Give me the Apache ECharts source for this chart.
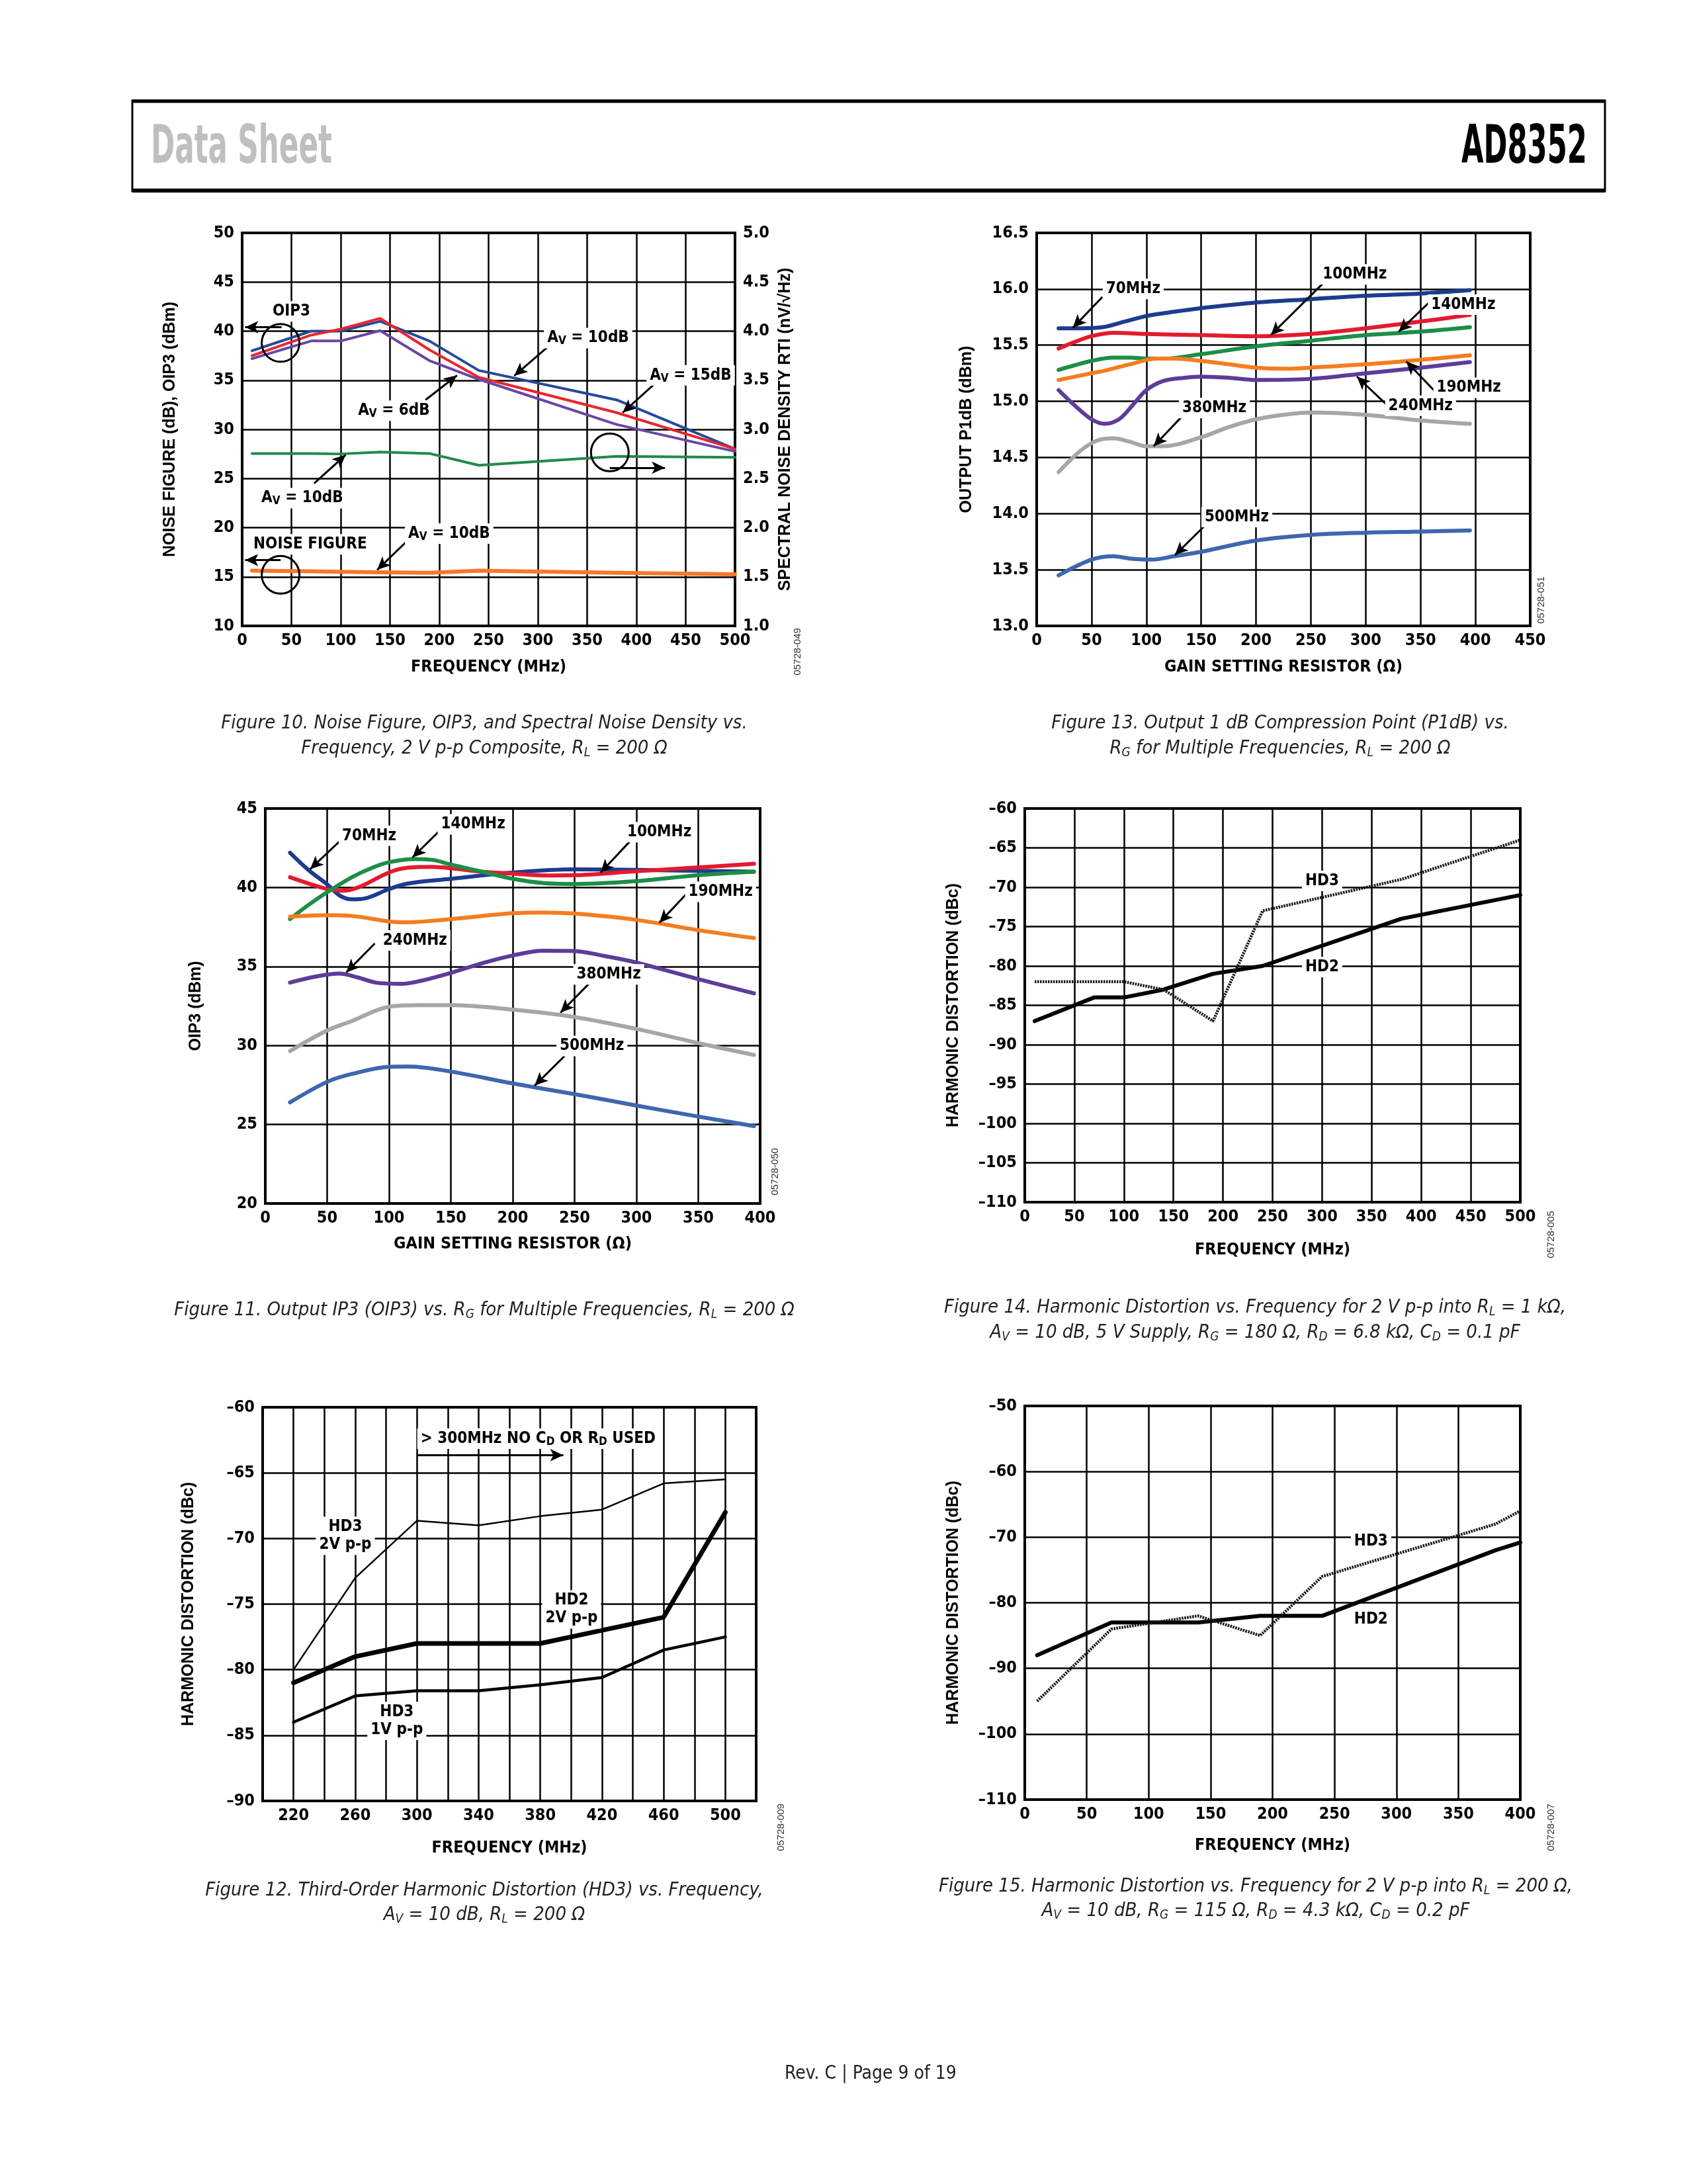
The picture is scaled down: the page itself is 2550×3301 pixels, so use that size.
<!DOCTYPE html>
<html><head><meta charset="utf-8">
<script src="https://cdn.jsdelivr.net/npm/echarts@6/dist/echarts.min.js"></script>
<style>html,body{margin:0;padding:0;background:#fff}#c{width:2550px;height:3301px}</style>
</head><body><div id="c"></div>
<script>
// ---------------- DATA ----------------
// Figure 10: Noise figure, OIP3, spectral noise density vs frequency
const f10Freq = [10, 70, 100, 140, 190, 240, 380, 500];
const f10Oip3Av10 = [38.0, 40.0, 40.0, 41.0, 39.0, 36.0, 33.0, 28.0];
const f10Oip3Av15 = [37.5, 39.6, 40.2, 41.3, 38.1, 35.3, 31.7, 28.0];
const f10Oip3Av6 = [37.2, 39.0, 39.0, 40.05, 37.0, 35.1, 30.5, 27.75];
const f10NoiseDensity = [2.755, 2.755, 2.75, 2.77, 2.755, 2.635, 2.725, 2.715];
const f10NoiseFigure = [15.63, 15.55, 15.5, 15.45, 15.4, 15.63, 15.4, 15.25];

// Figure 13: P1dB vs RG
const f13R70 = [20, 40, 60, 80, 100, 120, 150, 200, 250, 300, 350, 395];
const f13P70 = [15.65, 15.65, 15.66, 15.71, 15.76, 15.79, 15.83, 15.88, 15.91, 15.94, 15.96, 15.99];
const f13R100 = [20, 35, 50, 70, 100, 150, 200, 250, 300, 350, 395];
const f13P100 = [15.47, 15.53, 15.58, 15.61, 15.60, 15.59, 15.58, 15.60, 15.65, 15.71, 15.77];
const f13R140 = [20, 50, 70, 85, 100, 115, 150, 200, 250, 300, 350, 395];
const f13P140 = [15.28, 15.36, 15.39, 15.39, 15.38, 15.38, 15.42, 15.49, 15.54, 15.59, 15.62, 15.66];
const f13R190 = [20, 50, 65, 85, 110, 125, 150, 175, 200, 230, 250, 300, 350, 395];
const f13P190 = [15.19, 15.25, 15.28, 15.33, 15.38, 15.38, 15.36, 15.33, 15.30, 15.29, 15.30, 15.33, 15.37, 15.41];
const f13R240 = [20, 35, 50, 62, 75, 87, 100, 115, 135, 150, 175, 200, 250, 300, 350, 395];
const f13P240 = [15.10, 14.96, 14.84, 14.80, 14.84, 14.96, 15.10, 15.18, 15.21, 15.22, 15.21, 15.19, 15.20, 15.25, 15.30, 15.35];
const f13R380 = [20, 40, 55, 70, 85, 100, 115, 150, 175, 200, 225, 250, 300, 350, 395];
const f13P380 = [14.37, 14.56, 14.65, 14.67, 14.64, 14.60, 14.60, 14.68, 14.77, 14.84, 14.88, 14.90, 14.88, 14.83, 14.80];
const f13R500 = [20, 50, 70, 85, 105, 125, 150, 200, 250, 300, 350, 395];
const f13P500 = [13.45, 13.59, 13.62, 13.60, 13.59, 13.62, 13.66, 13.76, 13.81, 13.83, 13.84, 13.85];

// Figure 11: OIP3 vs RG
const f11R70 = [20, 35, 50, 60, 70, 80, 100, 115, 150, 200, 250, 300, 350, 395];
const f11O70 = [42.2, 41.1, 40.2, 39.5, 39.25, 39.3, 39.9, 40.25, 40.55, 40.95, 41.15, 41.12, 41.05, 41.0];
const f11R100 = [20, 50, 62, 75, 100, 115, 135, 150, 175, 200, 225, 250, 300, 350, 395];
const f11O100 = [40.65, 39.9, 39.8, 40.0, 40.95, 41.25, 41.3, 41.22, 41.0, 40.88, 40.76, 40.78, 41.03, 41.27, 41.5];
const f11R140 = [20, 35, 50, 70, 85, 100, 120, 135, 150, 175, 200, 225, 250, 300, 350, 395];
const f11O140 = [38.0, 38.9, 39.7, 40.65, 41.2, 41.6, 41.8, 41.75, 41.45, 41.0, 40.55, 40.28, 40.22, 40.4, 40.78, 41.0];
const f11R190 = [20, 50, 70, 100, 115, 150, 200, 225, 250, 300, 350, 395];
const f11O190 = [38.15, 38.25, 38.2, 37.85, 37.8, 38.0, 38.37, 38.42, 38.35, 37.95, 37.3, 36.8];
const f11R240 = [20, 40, 60, 75, 90, 110, 125, 150, 175, 200, 225, 250, 275, 300, 350, 395];
const f11O240 = [33.98, 34.35, 34.55, 34.3, 33.97, 33.9, 34.08, 34.6, 35.2, 35.7, 36.0, 35.98, 35.65, 35.25, 34.2, 33.3];
const f11R380 = [20, 50, 70, 100, 125, 150, 200, 250, 300, 350, 395];
const f11O380 = [29.65, 30.95, 31.55, 32.45, 32.55, 32.55, 32.27, 31.8, 31.05, 30.15, 29.4];
const f11R500 = [20, 50, 70, 100, 115, 150, 200, 250, 300, 350, 395];
const f11O500 = [26.4, 27.7, 28.2, 28.65, 28.67, 28.35, 27.6, 26.92, 26.2, 25.5, 24.9];

// Figure 14: HD vs frequency, RL = 1k
const f14Freq = [10, 70, 100, 140, 190, 240, 380, 500];
const f14HD2 = [-87, -84, -84, -83, -81, -80, -74, -71];
const f14HD3 = [-82, -82, -82, -83, -87, -73, -69, -64];

// Figure 12: HD3 vs frequency
const f12Freq = [220, 260, 300, 340, 380, 420, 460, 500];
const f12HD3_2V = [-80, -73, -68.65, -69, -68.3, -67.8, -65.8, -65.5];
const f12HD2_2V = [-81, -79, -78, -78, -78, -77, -76, -68];
const f12HD3_1V = [-84, -82, -81.6, -81.6, -81.15, -80.6, -78.5, -77.5];
const f12XLabels = [220, 260, 300, 340, 380, 420, 460, 500];

// Figure 15: HD vs frequency, RL = 200
const f15Freq = [10, 70, 140, 190, 240, 380, 400];
const f15HD2 = [-88, -83, -83, -82, -82, -72, -70.8];
const f15HD3 = [-95, -84, -82, -85, -76, -68, -66];

// ---------------- STYLE HELPERS ----------------
const NARROW = "'Liberation Sans Narrow','DejaVu Sans Condensed',sans-serif";
const ARIAL = "'Liberation Sans',Arial,sans-serif";
const AXL = {color:'#000', fontFamily:NARROW, fontWeight:'bold', fontSize:25};
const SPLIT = {show:true, lineStyle:{color:'#000', width:2.5}};
const dash = v => v < 0 ? '\u2013' + Math.abs(v) : String(v);

function mkGrid(l, t, w, h) {
  return {left:l, top:t, width:w, height:h, show:true, borderColor:'#000', borderWidth:4, outerBoundsMode:'none'};
}
function mkX(gi, min, max, interval, name, gap, fmt) {
  return {type:'value', gridIndex:gi, min, max, interval, name, nameLocation:'middle', nameGap:gap,
    nameTextStyle:{color:'#000', fontFamily:NARROW, fontWeight:'bold', fontSize:25},
    axisLine:{show:false}, axisTick:{show:false},
    axisLabel:Object.assign({}, AXL, {margin:10, formatter:fmt}), splitLine:SPLIT};
}
function mkY(gi, min, max, interval, name, gap, fmt, pos) {
  return {type:'value', gridIndex:gi, position:pos || 'left', min, max, interval, name, nameLocation:'middle', nameGap:gap, nameRotate:90,
    nameTextStyle:{color:'#000', fontFamily:ARIAL, fontWeight:'bold', fontSize:25},
    axisLine:{show:false}, axisTick:{show:false},
    axisLabel:Object.assign({}, AXL, {margin:12, formatter:fmt}),
    splitLine: pos === 'right' ? {show:false} : SPLIT};
}
function pairs(xs, ys) { return xs.map((x, i) => [x, ys[i]]); }
function ln(xi, yi, xs, ys, color, width, extra) {
  return Object.assign({type:'line', xAxisIndex:xi, yAxisIndex:yi, data:pairs(xs, ys), showSymbol:false, symbol:'none',
    lineStyle:{color, width, cap:'round', join:'round'}, itemStyle:{color}, silent:true, z:3}, extra || {});
}
const RICH = {s:{fontFamily:NARROW, fontWeight:'bold', fontSize:17, color:'#000', verticalAlign:'bottom', lineHeight:18}};
function lbl(text, coord, pos) {
  return {coord, symbol:'rect', symbolSize:1, itemStyle:{color:'rgba(0,0,0,0)'},
    label:{show:true, position:pos || 'inside', distance:0, formatter:text, color:'#000', fontFamily:NARROW, fontWeight:'bold',
      fontSize:24, lineHeight:27, backgroundColor:'#fff', padding:[2, 5], rich:RICH}};
}
function circ(coord) {
  return {coord, symbol:'circle', symbolSize:57, itemStyle:{color:'rgba(0,0,0,0)', borderColor:'#000', borderWidth:3}, label:{show:false}};
}
function marks(labels, arrows, circles) {
  return {
    markPoint:{silent:true, animation:false, data:labels.concat(circles || [])},
    markLine:{silent:true, animation:false, symbol:['none', 'arrow'], symbolSize:[14, 20],
      lineStyle:{color:'#000', width:3, type:'solid'}, label:{show:false},
      data:arrows.map(p => [{coord:p[0]}, {coord:p[1]}])}
  };
}
const AV = v => 'A{s|V} = ' + v;

// ---------------- ANNOTATIONS (data coordinates) ----------------
const f10Marks = marks(
  [lbl('OIP3', [50, 42.0]), lbl(AV('10dB'), [351, 39.3]), lbl(AV('15dB'), [455, 35.5]), lbl(AV('6dB'), [154, 31.9]),
   lbl(AV('10dB'), [61, 23.0]), lbl('NOISE FIGURE', [69, 18.3]), lbl(AV('10dB'), [210, 19.4])],
  [[[40, 40.4], [3, 40.4]], [[310, 38.4], [276, 35.45]], [[417, 34.5], [386, 31.7]], [[186, 33.0], [218, 35.5]],
   [[373, 26.1], [429, 26.1]], [[73, 24.5], [105, 27.4]], [[39, 16.7], [3, 16.7]], [[167, 18.6], [137, 15.7]]],
  [circ([39, 38.8]), circ([373, 27.66]), circ([39, 15.2])]
);
const f13Marks = marks(
  [lbl('70MHz', [88, 16.0]), lbl('100MHz', [290, 16.13]), lbl('140MHz', [389, 15.86]), lbl('190MHz', [394, 15.12]),
   lbl('240MHz', [350, 14.96]), lbl('380MHz', [162, 14.94]), lbl('500MHz', [182.5, 13.97])],
  [[[60, 15.93], [33, 15.655]], [[261, 16.05], [213.5, 15.59]], [[357.7, 15.88], [330, 15.62]], [[363, 15.09], [337, 15.355]],
   [[318.6, 14.975], [292, 15.22]], [[133, 14.87], [106.6, 14.60]], [[153, 13.89], [126, 13.63]]]
);
const f11Marks = marks(
  [lbl('70MHz', [84, 43.27]), lbl('140MHz', [168, 44.0]), lbl('100MHz', [318.5, 43.5]), lbl('190MHz', [368, 39.72]),
   lbl('240MHz', [121, 36.65]), lbl('380MHz', [277.6, 34.5]), lbl('500MHz', [264, 29.97])],
  [[[61, 42.99], [36.3, 41.16]], [[144, 43.83], [119, 41.9]], [[294.5, 42.9], [271, 40.94]], [[342, 39.72], [318.5, 37.77]],
   [[88.5, 36.46], [65.5, 34.63]], [[262, 33.94], [238.6, 32.08]], [[242, 29.34], [217.7, 27.46]]]
);
const f14Marks = marks([lbl('HD3', [300, -69.2]), lbl('HD2', [300, -80.15])], []);
const f12Marks = marks(
  [lbl('> 300MHz NO C{s|D} OR R{s|D} USED', [300, -62.4], 'right'), lbl('HD3\n2V p-p', [253.6, -69.8]),
   lbl('HD2\n2V p-p', [400.3, -75.4]), lbl('HD3\n1V p-p', [287, -83.9])],
  [[[300, -63.65], [395, -63.65]]]
);
const f15Marks = marks([lbl('HD3', [279.5, -70.6]), lbl('HD2', [279.5, -82.5])], []);

// ---------------- GRAPHICS (page furniture) ----------------
function tw(text, font) { const c = document.createElement('canvas').getContext('2d'); c.font = font; return c.measureText(text).width; }
const HFAM = "'DejaVu Sans Condensed'";
const HFONT = "bold 80px 'DejaVu Sans Condensed'";
const dsScale = 274 / tw('Data Sheet', HFONT);
const adScale = 190 / tw('AD8352', HFONT);
const CAPF = "'Liberation Sans Narrow','DejaVu Sans Condensed',sans-serif";
function cap(cx, cy, text) {
  return {type:'text', x:cx, y:cy, silent:true, style:{text, align:'center', verticalAlign:'middle', fontFamily:CAPF, fontStyle:'italic',
    fontSize:29, lineHeight:34, fill:'#231f20',
    rich:{s:{fontFamily:CAPF, fontStyle:'italic', fontSize:19, fill:'#231f20', verticalAlign:'bottom', lineHeight:22}}}};
}
function code(x, y, text) {
  return {type:'text', x, y, rotation:Math.PI / 2, silent:true, style:{text, align:'center', verticalAlign:'middle', fontFamily:ARIAL, fontSize:15, fill:'#333'}};
}
const graphics = [
  {type:'rect', shape:{x:200, y:152, width:2226, height:137}, style:{fill:'none', stroke:'#000', lineWidth:3}},
  {type:'line', shape:{x1:200, y1:153, x2:2426, y2:153}, style:{stroke:'#000', lineWidth:5}},
  {type:'line', shape:{x1:200, y1:288, x2:2426, y2:288}, style:{stroke:'#000', lineWidth:6}},
  {type:'text', x:228, y:225, scaleX:dsScale, style:{text:'Data Sheet', align:'left', verticalAlign:'middle', fontFamily:HFAM, fontWeight:'bold', fontSize:80, fill:'#bfbfbf'}},
  {type:'text', x:2399, y:225, scaleX:adScale, style:{text:'AD8352', align:'right', verticalAlign:'middle', fontFamily:HFAM, fontWeight:'bold', fontSize:80, fill:'#000'}},
  cap(732, 1093, 'Figure 10. Noise Figure, OIP3, and Spectral Noise Density vs.'),
  cap(732, 1131, 'Frequency, 2 V p-p Composite, R{s|L} = 200 \u03A9'),
  cap(1935, 1093, 'Figure 13. Output 1 dB Compression Point (P1dB) vs.'),
  cap(1935, 1131, 'R{s|G} for Multiple Frequencies, R{s|L} = 200 \u03A9'),
  cap(732, 1980, 'Figure 11. Output IP3 (OIP3) vs. R{s|G} for Multiple Frequencies, R{s|L} = 200 \u03A9'),
  cap(1897, 1976, 'Figure 14. Harmonic Distortion vs. Frequency for 2 V p-p into R{s|L} = 1 k\u03A9,'),
  cap(1897, 2014, 'A{s|V} = 10 dB, 5 V Supply, R{s|G} = 180 \u03A9, R{s|D} = 6.8 k\u03A9, C{s|D} = 0.1 pF'),
  cap(732, 2857, 'Figure 12. Third-Order Harmonic Distortion (HD3) vs. Frequency,'),
  cap(732, 2894, 'A{s|V} = 10 dB, R{s|L} = 200 \u03A9'),
  cap(1898, 2851, 'Figure 15. Harmonic Distortion vs. Frequency for 2 V p-p into R{s|L} = 200 \u03A9,'),
  cap(1898, 2888, 'A{s|V} = 10 dB, R{s|G} = 115 \u03A9, R{s|D} = 4.3 k\u03A9, C{s|D} = 0.2 pF'),
  {type:'text', x:1316, y:3135, silent:true, style:{text:'Rev. C | Page 9 of 19', align:'center', verticalAlign:'middle', fontFamily:CAPF, fontSize:28, fill:'#231f20'}},
  code(1206, 985, '05728-049'), code(2330, 907, '05728-051'), code(1172, 1771, '05728-050'),
  code(2345, 1866, '05728-005'), code(1181, 2762, '05728-009'), code(2345, 2762, '05728-007')
];

// ---------------- COLOURS ----------------
const C = {navy:'#1d3c8f', red:'#e31b2f', green:'#1c8e47', orange:'#f57d20', purple:'#5e3c99', gray:'#a6a6a6', blue:'#3e67ae'};
const C10 = {blue:'#244a9a', red:'#e8262c', purple:'#6b46a3', green:'#218b4b', orange:'#f7782a'};
const HD3LINE = {color:'#151515', width:4.5, type:[2.5, 1.5], cap:'butt'};

// ---------------- OPTION ----------------
const option = {
  animation:false,
  backgroundColor:'#fff',
  grid:[
    mkGrid(366, 352, 745, 594),   // Fig 10
    mkGrid(1567, 352, 746, 594),  // Fig 13
    mkGrid(401, 1222, 748, 597),  // Fig 11
    mkGrid(1549, 1222, 749, 595), // Fig 14
    mkGrid(397, 2127, 746, 595),  // Fig 12
    mkGrid(1549, 2125, 749, 595)  // Fig 15
  ],
  xAxis:[
    mkX(0, 0, 500, 50, 'FREQUENCY (MHz)', 50),
    mkX(1, 0, 450, 50, 'GAIN SETTING RESISTOR (\u03A9)', 50),
    mkX(2, 0, 400, 50, 'GAIN SETTING RESISTOR (\u03A9)', 49),
    mkX(3, 0, 500, 50, 'FREQUENCY (MHz)', 60),
    mkX(4, 200, 520, 20, 'FREQUENCY (MHz)', 59, v => f12XLabels.indexOf(v) >= 0 ? String(v) : ''),
    mkX(5, 0, 400, 50, 'FREQUENCY (MHz)', 57)
  ],
  yAxis:[
    mkY(0, 10, 50, 5, 'NOISE FIGURE (dB), OIP3 (dBm)', 96),
    mkY(0, 1, 5, 0.5, 'SPECTRAL NOISE DENSITY RTI (nV/\u221AHz)', 64, v => v.toFixed(1), 'right'),
    mkY(1, 13, 16.5, 0.5, 'OUTPUT P1dB (dBm)', 93, v => v.toFixed(1)),
    mkY(2, 20, 45, 5, 'OIP3 (dBm)', 92),
    mkY(3, -110, -60, 5, 'HARMONIC DISTORTION (dBc)', 95, dash),
    mkY(4, -90, -60, 5, 'HARMONIC DISTORTION (dBc)', 99, dash),
    mkY(5, -110, -50, 10, 'HARMONIC DISTORTION (dBc)', 95, dash)
  ],
  series:[
    // Fig 10
    ln(0, 0, f10Freq, f10Oip3Av10, C10.blue, 4, f10Marks),
    ln(0, 0, f10Freq, f10Oip3Av15, C10.red, 4),
    ln(0, 0, f10Freq, f10Oip3Av6, C10.purple, 4),
    ln(0, 1, f10Freq, f10NoiseDensity, C10.green, 4),
    ln(0, 0, f10Freq, f10NoiseFigure, C10.orange, 6),
    // Fig 13
    ln(1, 2, f13R70, f13P70, C.navy, 6, Object.assign({smooth:0.35}, f13Marks)),
    ln(1, 2, f13R100, f13P100, C.red, 6, {smooth:0.35}),
    ln(1, 2, f13R140, f13P140, C.green, 6, {smooth:0.35}),
    ln(1, 2, f13R190, f13P190, C.orange, 6, {smooth:0.35}),
    ln(1, 2, f13R240, f13P240, C.purple, 6, {smooth:0.35}),
    ln(1, 2, f13R380, f13P380, C.gray, 6, {smooth:0.35}),
    ln(1, 2, f13R500, f13P500, C.blue, 6, {smooth:0.35}),
    // Fig 11
    ln(2, 3, f11R70, f11O70, C.navy, 6, Object.assign({smooth:0.35}, f11Marks)),
    ln(2, 3, f11R100, f11O100, C.red, 6, {smooth:0.35}),
    ln(2, 3, f11R140, f11O140, C.green, 6, {smooth:0.35}),
    ln(2, 3, f11R190, f11O190, C.orange, 6, {smooth:0.35}),
    ln(2, 3, f11R240, f11O240, C.purple, 6, {smooth:0.35}),
    ln(2, 3, f11R380, f11O380, C.gray, 6, {smooth:0.35}),
    ln(2, 3, f11R500, f11O500, C.blue, 6, {smooth:0.35}),
    // Fig 14
    ln(3, 4, f14Freq, f14HD2, '#000', 6, f14Marks),
    ln(3, 4, f14Freq, f14HD3, '#151515', 4.5, {lineStyle:HD3LINE}),
    // Fig 12
    ln(4, 5, f12Freq, f12HD3_2V, '#000', 2.5, f12Marks),
    ln(4, 5, f12Freq, f12HD2_2V, '#000', 7),
    ln(4, 5, f12Freq, f12HD3_1V, '#000', 4.5),
    // Fig 15
    ln(5, 6, f15Freq, f15HD2, '#000', 6, f15Marks),
    ln(5, 6, f15Freq, f15HD3, '#151515', 4.5, {lineStyle:HD3LINE})
  ],
  graphic:{elements:graphics}
};
const chart = echarts.init(document.getElementById('c'), null, {renderer:'canvas'});
chart.setOption(option);
</script></body></html>
